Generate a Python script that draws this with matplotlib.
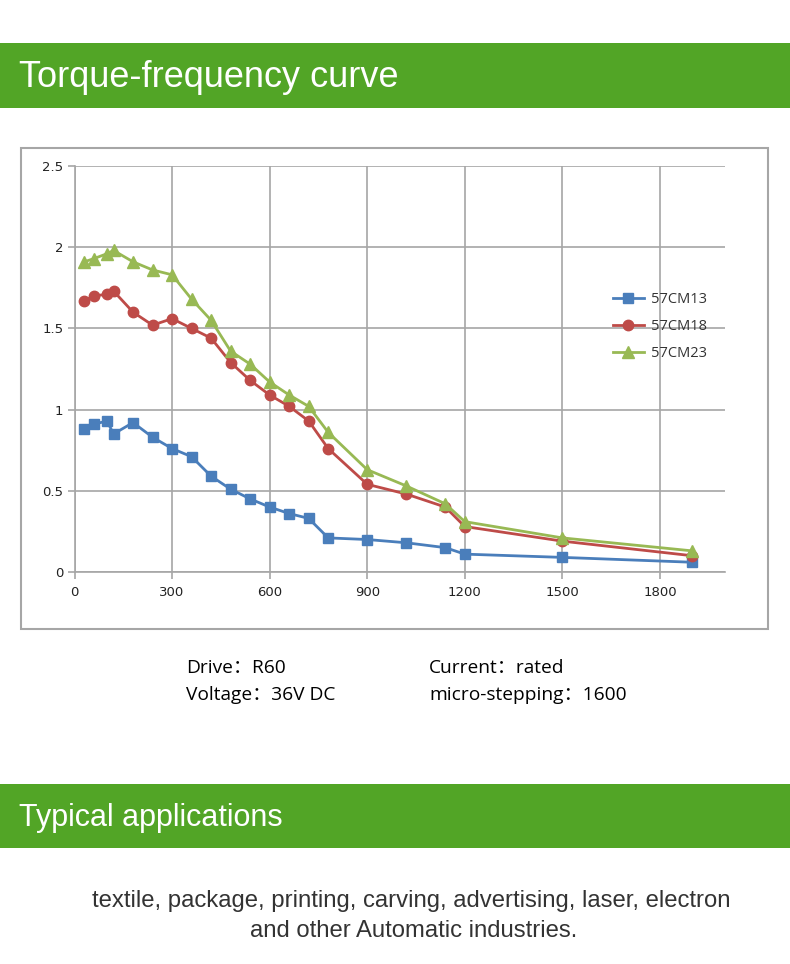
import matplotlib.pyplot as plt
from matplotlib.patches import Rectangle

# frequency points (x) shared by all three motors
freq = [30, 60, 100, 120, 180, 240, 300, 360, 420, 480, 540, 600,
        660, 720, 780, 900, 1020, 1140, 1200, 1500, 1900]

# torque readings for each motor
cm13 = [0.88, 0.91, 0.93, 0.85, 0.92, 0.83, 0.76, 0.71, 0.59, 0.51, 0.45, 0.40,
        0.36, 0.33, 0.21, 0.20, 0.18, 0.15, 0.11, 0.09, 0.06]
cm18 = [1.67, 1.70, 1.71, 1.73, 1.60, 1.52, 1.56, 1.50, 1.44, 1.29, 1.18, 1.09,
        1.02, 0.93, 0.76, 0.54, 0.48, 0.40, 0.28, 0.19, 0.10]
cm23 = [1.91, 1.93, 1.96, 1.98, 1.91, 1.86, 1.83, 1.68, 1.55, 1.36, 1.28, 1.17,
        1.09, 1.02, 0.86, 0.63, 0.53, 0.42, 0.31, 0.21, 0.13]

series_names = ['57CM13', '57CM18', '57CM23']
x_ticks = [0, 300, 600, 900, 1200, 1500, 1800]
y_ticks = [0, 0.5, 1, 1.5, 2, 2.5]
y_tick_labels = ['0', '0.5', '1', '1.5', '2', '2.5']

W, H = 790, 964
BANNER = '#52a526'
GRID = '#a6a6a6'

fig = plt.figure(figsize=(W / 100, H / 100), dpi=100)
fig.patch.set_facecolor('white')


def fx(px):
    return px / W


def fy(py):
    return 1 - py / H


# green banners
def banner(top, bottom, text, size):
    fig.add_artist(Rectangle((0, fy(bottom)), 1, fy(top) - fy(bottom),
                             transform=fig.transFigure, color=BANNER, lw=0))
    fig.text(fx(19), fy((top + bottom) / 2 + 2), text, color='white',
             fontsize=size, family='Liberation Sans', va='center', ha='left')


banner(43, 108, 'Torque-frequency curve', 26)
banner(784, 848, 'Typical applications', 22)

# frame around the chart
fig.add_artist(Rectangle((fx(21), fy(629)), fx(768) - fx(21), fy(148) - fy(629),
                         transform=fig.transFigure, fill=False, edgecolor=GRID, lw=1.5))

# plot area
ax = fig.add_axes([fx(74.5), fy(572), fx(725) - fx(74.5), fy(166) - fy(572)])
ax.plot(freq, cm13, color='#4a7ebb', marker='s', ms=7, lw=2, label=series_names[0])
ax.plot(freq, cm18, color='#be4b48', marker='o', ms=7.5, lw=2, label=series_names[1])
ax.plot(freq, cm23, color='#98b954', marker='^', ms=8, lw=2, label=series_names[2])

ax.set_xlim(0, 2000)
ax.set_ylim(0, 2.5)
ax.set_xticks(x_ticks)
ax.set_yticks(y_ticks)
ax.set_yticklabels(y_tick_labels)
ax.grid(True, color=GRID, lw=1.2)
ax.set_axisbelow(True)
for side in ['top', 'right']:
    ax.spines[side].set_visible(False)
for side in ['left', 'bottom']:
    ax.spines[side].set_color(GRID)
    ax.spines[side].set_linewidth(1.2)
ax.tick_params(colors=GRID, labelcolor='#222222', length=5, width=1.2,
               labelsize=9.5, pad=3)
ax.tick_params(axis='x', pad=5)

leg = ax.legend(loc='upper left', bbox_to_anchor=(0.819, 0.703), frameon=False,
                prop={'family': 'Open Sans', 'size': 10.5}, handlelength=2.1,
                handletextpad=0.5, labelspacing=0.8, borderaxespad=0)
for t in leg.get_texts():
    t.set_color('#333333')

# test conditions
info_font = ['Open Sans', 'Noto Sans CJK SC', 'DejaVu Sans']
fig.text(fx(186), fy(668), 'Drive：R60', fontsize=13.8, family=info_font, va='center')
fig.text(fx(186), fy(695), 'Voltage：36V DC', fontsize=13.8, family=info_font, va='center')
fig.text(fx(429), fy(668), 'Current：rated', fontsize=13.8, family=info_font, va='center')
fig.text(fx(429), fy(695), 'micro-stepping：1600', fontsize=13.8, family=info_font, va='center')

# applications
fig.text(fx(411), fy(901), 'textile, package, printing, carving, advertising, laser, electron',
         fontsize=17.2, family='Liberation Sans', color='#333333', ha='center', va='center')
fig.text(fx(414), fy(931), 'and other Automatic industries.',
         fontsize=17.2, family='Liberation Sans', color='#333333', ha='center', va='center')

fig.savefig('out.png', dpi=100)
